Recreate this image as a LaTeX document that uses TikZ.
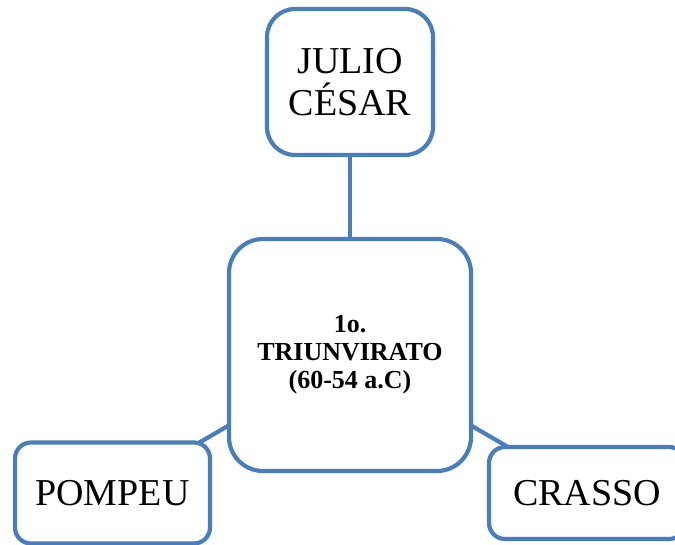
\documentclass[tikz,border=0pt]{standalone}
\usepackage{fontspec}
\setmainfont{Liberation Serif}
\usepackage{tikz}
\usetikzlibrary{positioning}
\definecolor{azulcaixa}{RGB}{74,126,187}
\pgfdeclarelayer{bg}
\pgfsetlayers{bg,main}

\begin{document}
\begin{tikzpicture}[x=1pt,y=-1pt,
						every node/.style = {align=center},
						caixa/.style = {draw=azulcaixa,line width=4.2pt,fill=white,rounded corners=#1,inner sep=0pt},
						caixa/.default = 16pt,
						liga/.style = {draw=azulcaixa,line width=4.2pt}]

					\useasboundingbox (0,0) rectangle (675,545);

					\node[caixa=28pt,minimum width=166pt,minimum height=146pt,font=\fontsize{38}{42}\selectfont] (julio) at (350,82) {JULIO\\CÉSAR};
					\node[caixa=34pt,minimum width=242pt,minimum height=232pt,font=\fontsize{26}{28}\selectfont\bfseries] (triunvirato) at (350,355) {1o.\\TRIUNVIRATO\\(60-54 a.C)};
					\node[caixa,minimum width=195pt,minimum height=101pt,font=\fontsize{38}{42}\selectfont] (pompeu) at (112.5,493) {POMPEU};
					\node[caixa,minimum width=196pt,minimum height=92pt,font=\fontsize{38}{42}\selectfont] (crasso) at (587,493) {CRASSO};

					\begin{pgfonlayer}{bg}
						\draw[liga] (julio.center) -- (triunvirato.center);
						\draw[liga] (triunvirato.center) -- (pompeu.center);
						\draw[liga] (triunvirato.center) -- (crasso.center);
					\end{pgfonlayer}

				\end{tikzpicture}
\end{document}
